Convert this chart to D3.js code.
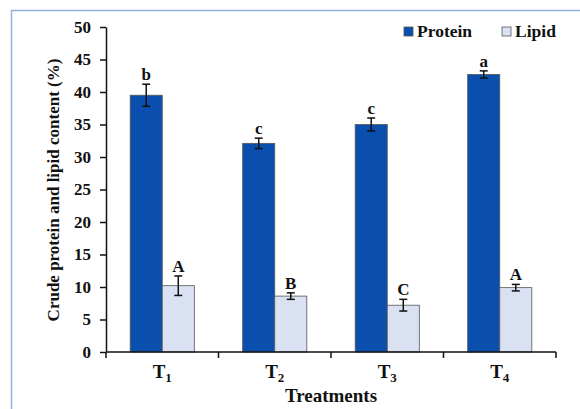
<!DOCTYPE html>
<html>
<head>
<meta charset="utf-8">
<script src="https://cdn.jsdelivr.net/npm/d3@7"></script>
<style>
  body { margin: 0; background: #fff; }
  svg { display: block; font-family: "Liberation Serif", "Times New Roman", serif; }
</style>
</head>
<body>
<div id="chart"></div>
<script>
const treatments = ["1", "2", "3", "4"];
const series = ["Protein", "Lipid"];
const proteinValues = [39.5, 32.1, 35.0, 42.7];
const proteinErrors = [1.7, 0.8, 1.0, 0.55];
const proteinLetters = ["b", "c", "c", "a"];
const lipidValues = [10.2, 8.6, 7.2, 9.9];
const lipidErrors = [1.5, 0.5, 0.9, 0.5];
const lipidLetters = ["A", "B", "C", "A"];
const yTicks = [0, 5, 10, 15, 20, 25, 30, 35, 40, 45, 50];

const colors = { Protein: "#0b4fae", Lipid: "#d9e1f2" };
const serif = "Liberation Serif, Times New Roman, serif";

const W = 580, H = 409;
const margin = { top: 27, right: 24, bottom: 57, left: 106 };
const width = W - margin.left - margin.right;
const height = H - margin.top - margin.bottom;

const svg = d3.select("#chart").append("svg")
    .attr("width", W)
    .attr("height", H);

// outer frame (only top and left edges visible)
svg.append("path")
    .attr("d", `M11.5,${H} V10.5 H${W}`)
    .attr("fill", "none")
    .attr("stroke", "#8fb3dc")
    .attr("stroke-width", 1.5);

const g = svg.append("g").attr("transform", `translate(${margin.left},${margin.top})`);

const x0 = d3.scaleBand().domain(treatments).range([0, width]).paddingInner(0.43).paddingOuter(0.215);
const x1 = d3.scaleBand().domain(series).range([0, x0.bandwidth()]);
const y = d3.scaleLinear().domain([0, 50]).range([height, 0]);

const rows = treatments.map((t, i) => ({
    t,
    bars: [
        { s: "Protein", v: proteinValues[i], e: proteinErrors[i], l: proteinLetters[i] },
        { s: "Lipid", v: lipidValues[i], e: lipidErrors[i], l: lipidLetters[i] }
    ]
}));

const groups = g.selectAll(".grp").data(rows).enter().append("g")
    .attr("class", "grp")
    .attr("transform", d => `translate(${x0(d.t)},0)`);

groups.selectAll("rect").data(d => d.bars).enter().append("rect")
    .attr("x", d => x1(d.s))
    .attr("y", d => y(d.v))
    .attr("width", x1.bandwidth())
    .attr("height", d => y(0) - y(d.v))
    .attr("fill", d => colors[d.s])
    .attr("stroke", "#555")
    .attr("stroke-width", 0.8);

// error bars
const err = groups.selectAll(".err").data(d => d.bars).enter().append("g").attr("class", "err");
err.append("line")
    .attr("x1", d => x1(d.s) + x1.bandwidth() / 2)
    .attr("x2", d => x1(d.s) + x1.bandwidth() / 2)
    .attr("y1", d => y(d.v - d.e))
    .attr("y2", d => y(d.v + d.e))
    .attr("stroke", "#111").attr("stroke-width", 1.5);
[-1, 1].forEach(k => {
    err.append("line")
        .attr("x1", d => x1(d.s) + x1.bandwidth() / 2 - 4)
        .attr("x2", d => x1(d.s) + x1.bandwidth() / 2 + 4)
        .attr("y1", d => y(d.v + k * d.e))
        .attr("y2", d => y(d.v + k * d.e))
        .attr("stroke", "#111").attr("stroke-width", 1.5);
});

// significance letters
groups.selectAll(".lbl").data(d => d.bars).enter().append("text")
    .attr("class", "lbl")
    .attr("x", d => x1(d.s) + x1.bandwidth() / 2)
    .attr("y", d => y(d.v + d.e) - 4)
    .attr("text-anchor", "middle")
    .attr("font-size", 17)
    .attr("font-weight", "bold")
    .attr("fill", "#111")
    .text(d => d.l);

// y axis
const yAxis = g.append("g")
    .call(d3.axisLeft(y).tickValues(yTicks).tickSize(6).tickSizeOuter(0).tickPadding(9));
yAxis.attr("font-family", serif).attr("font-size", 17);
yAxis.select(".domain").attr("stroke", "#111").attr("stroke-width", 1.5);
yAxis.selectAll(".tick line").attr("stroke", "#111").attr("stroke-width", 1.5);
yAxis.selectAll("text")
    .attr("font-weight", "bold").attr("fill", "#111");

// x axis: line and boundary ticks
const xa = g.append("g").attr("transform", `translate(0,${height})`);
xa.append("line").attr("x1", 0).attr("x2", width).attr("stroke", "#111").attr("stroke-width", 1.5);
const bounds = d3.range(treatments.length + 1).map(i => i * x0.step());
xa.selectAll(".xt").data(bounds).enter().append("line")
    .attr("x1", d => d).attr("x2", d => d)
    .attr("y1", 0).attr("y2", 6)
    .attr("stroke", "#111").attr("stroke-width", 1.5);

const xl = xa.selectAll(".xl").data(treatments).enter().append("text")
    .attr("x", d => x0(d) + x0.bandwidth() / 2)
    .attr("y", 26)
    .attr("text-anchor", "middle")
    .attr("font-size", 19)
    .attr("font-weight", "bold")
    .attr("fill", "#111");
xl.append("tspan").text("T");
xl.append("tspan").attr("font-size", 13).attr("dy", 4).text(d => d);

// axis titles
svg.append("text")
    .attr("x", margin.left + width / 2)
    .attr("y", 402)
    .attr("text-anchor", "middle")
    .attr("font-size", 19)
    .attr("font-weight", "bold")
    .attr("fill", "#111")
    .text("Treatments");

svg.append("text")
    .attr("transform", `translate(59,190) rotate(-90)`)
    .attr("text-anchor", "middle")
    .attr("font-size", 17)
    .attr("font-weight", "bold")
    .attr("fill", "#111")
    .text("Crude protein and lipid content (%)");

// legend
const legendX = [404, 502];
const legend = svg.selectAll(".leg").data(series).enter().append("g")
    .attr("transform", (d, i) => `translate(${legendX[i]},27)`);
legend.append("rect")
    .attr("width", 9).attr("height", 9)
    .attr("fill", d => colors[d])
    .attr("stroke", "#555").attr("stroke-width", 0.8);
legend.append("text")
    .attr("x", 13).attr("y", 10)
    .attr("font-size", 17.5).attr("font-weight", "bold").attr("fill", "#111")
    .text(d => d);
</script>
</body>
</html>
